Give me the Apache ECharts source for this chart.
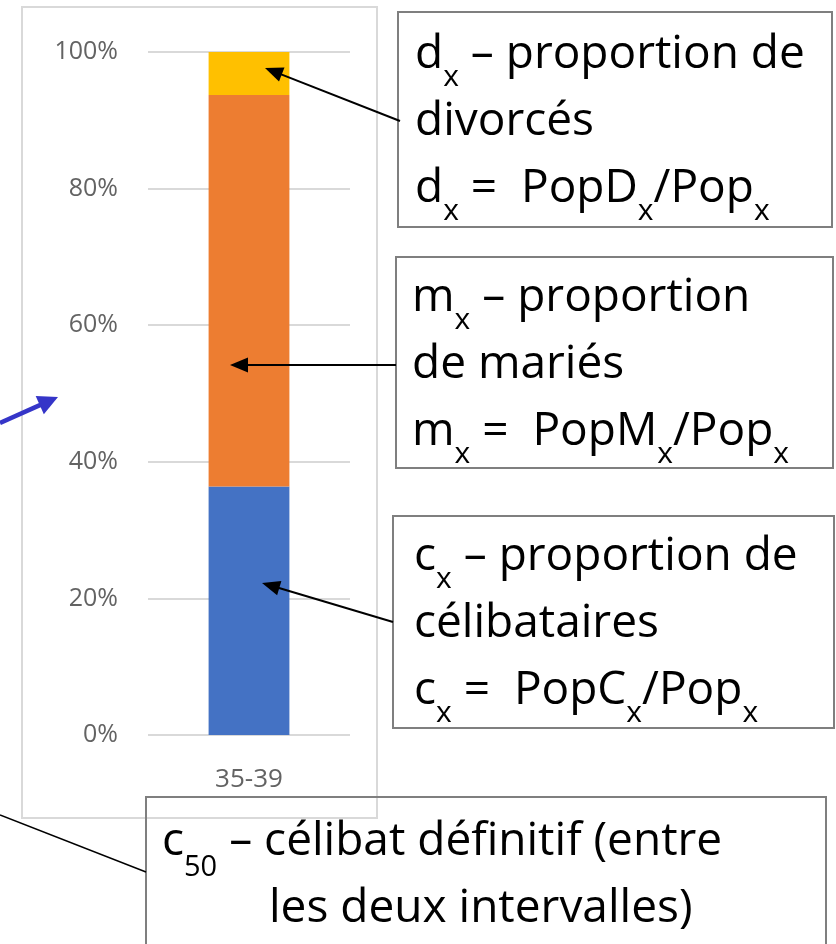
<!DOCTYPE html>
<html>
<head>
<meta charset="utf-8">
<script src="https://cdn.jsdelivr.net/npm/echarts@6/dist/echarts.min.js"></script>
<style>
html,body{margin:0;padding:0;background:#fff;}
#chart{width:836px;height:944px;}
</style>
</head>
<body>
<div id="chart"></div>
<script>
// ---- data ----
const categories = ['35-39'];
const celibataires = [36.4];   // c_x (%)
const maries = [57.3];         // m_x (%)
const divorces = [6.3];        // d_x (%)
const yTicks = [0, 20, 40, 60, 80, 100];

const FONT = 'Open Sans';

function arrow(x1, y1, x2, y2, color, width, headLen, headW) {
  const dx = x2 - x1, dy = y2 - y1;
  const L = Math.sqrt(dx * dx + dy * dy);
  const ux = dx / L, uy = dy / L;
  const bx = x2 - ux * headLen, by = y2 - uy * headLen;
  const px = -uy * headW / 2, py = ux * headW / 2;
  return [
    { type: 'line', shape: { x1: x1, y1: y1, x2: bx + ux * 2, y2: by + uy * 2 },
      style: { stroke: color, lineWidth: width }, z: 100 },
    { type: 'polygon', shape: { points: [[x2, y2], [bx + px, by + py], [bx - px, by - py]] },
      style: { fill: color }, z: 100 }
  ];
}

function box(x, y, w, h) {
  return { type: 'rect', shape: { x: x, y: y, width: w, height: h },
    style: { fill: 'none', stroke: '#7f7f7f', lineWidth: 2 }, z: 90 };
}

const rich = {
  s: { fontSize: 30, fontFamily: FONT, lineHeight: 20, verticalAlign: 'top',
       padding: [41, 0, 0, 0], fill: '#000' },
  n: { fontSize: 29, fontFamily: FONT, lineHeight: 20, verticalAlign: 'top',
       padding: [45, 0, 0, 0], fill: '#000' }
};

function label(x, y, text) {
  return { type: 'text', x: x, y: y, z: 95,
    style: { text: text, fontSize: 46, fontFamily: FONT, lineHeight: 67, fill: '#000',
      verticalAlign: 'top', align: 'left', rich: rich } };
}

const graphics = [
  { type: 'rect', shape: { x: 22, y: 7, width: 355, height: 811 },
    style: { fill: 'none', stroke: '#d9d9d9', lineWidth: 2 }, z: 1 },
  box(398, 12, 434, 215),
  box(396, 257, 437, 211),
  box(393, 516, 441, 212),
  box(146, 797, 680, 160),
  label(415, 21, 'd{s|x} – proportion de\ndivorcés\nd{s|x} =  PopD{s|x}/Pop{s|x}'),
  label(412, 264, 'm{s|x} – proportion\nde mariés\nm{s|x} =  PopM{s|x}/Pop{s|x}'),
  label(414, 523, 'c{s|x} – proportion de\ncélibataires\nc{s|x} =  PopC{s|x}/Pop{s|x}'),
  label(162, 808, 'c{n|50} – célibat définitif (entre'),
  label(269, 875, 'les deux intervalles)'),
  { type: 'line', shape: { x1: 0, y1: 815, x2: 146, y2: 872 },
    style: { stroke: '#000', lineWidth: 1.5 }, z: 100 }
].concat(
  arrow(400, 121, 265, 68, '#000', 2, 18, 15),
  arrow(396, 365, 230, 365, '#000', 2, 18, 15),
  arrow(393, 622, 262, 583, '#000', 2, 18, 15),
  arrow(0, 423, 58, 397, '#3535c8', 4.5, 20, 20)
);

const chart = echarts.init(document.getElementById('chart'), null, { renderer: 'canvas' });
chart.setOption({
  animation: false,
  backgroundColor: '#fff',
  grid: { left: 148, right: 486, top: 52, bottom: 209, containLabel: false },
  xAxis: {
    type: 'category', data: categories,
    axisLine: { show: false }, axisTick: { show: false },
    axisLabel: { color: '#636363', fontSize: 26, fontFamily: FONT, margin: 32 }
  },
  yAxis: {
    type: 'value', min: yTicks[0], max: yTicks[yTicks.length - 1], interval: 20,
    axisLine: { show: false }, axisTick: { show: false },
    axisLabel: { color: '#636363', fontSize: 25, fontFamily: FONT, margin: 30,
      formatter: v => v + '%' },
    splitLine: { lineStyle: { color: '#d9d9d9', width: 2 } }
  },
  series: [
    { name: 'célibataires', type: 'bar', stack: 'p', data: celibataires, barWidth: '40%',
      itemStyle: { color: '#4472c4' } },
    { name: 'mariés', type: 'bar', stack: 'p', data: maries, barWidth: '40%',
      itemStyle: { color: '#ed7d31' } },
    { name: 'divorcés', type: 'bar', stack: 'p', data: divorces, barWidth: '40%',
      itemStyle: { color: '#ffc000' } }
  ],
  graphic: graphics
});
</script>
</body>
</html>
